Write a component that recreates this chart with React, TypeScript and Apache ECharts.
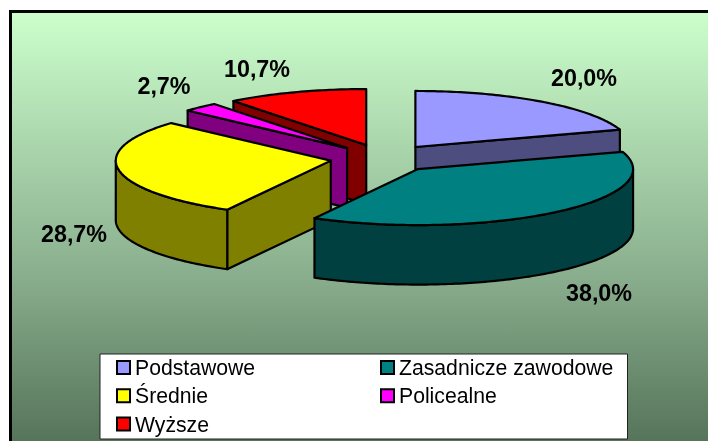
import React, { useEffect, useRef } from "react";
import * as echarts from "echarts";

const categories = ["Podstawowe", "Zasadnicze zawodowe", "Średnie", "Policealne", "Wyższe"];
const values = [20.0, 38.0, 28.7, 2.7, 10.7];
const topColors = ["#9999FF", "#008080", "#FFFF00", "#FF00FF", "#FF0000"];
const sideColors = ["#4D4D80", "#004040", "#808000", "#800080", "#800000"];
const drawRank = [3, 4, 2, 1, 0];
const legendLeftColumn = ["Podstawowe", "Średnie", "Wyższe"];
const legendRightColumn = ["Zasadnicze zawodowe", "Policealne"];
const labelCenters: [number, number][] = [[584, 78], [599, 293], [74, 234], [164, 86], [257, 69]];

const CX = 383.8, CY = 158.3, RX = 215, RY = 56, DEPTH = 59.5, EXPLODE = 0.25;
const FONT = "'Liberation Sans', Arial, sans-serif";
const PERCENT_TOTAL = 100;

const startAngle = (i: number) => values.slice(0, i).reduce((a, b) => a + b, 0) / PERCENT_TOTAL * 360;

function renderSlice(i: number) {
  return (_params: any, api: any) => {
    const v = api.value(0);
    const a0 = startAngle(i);
    const a1 = Math.min(360, a0 + (v / PERCENT_TOTAL) * 360);
    const mid = ((a0 + a1) / 2) * Math.PI / 180;
    const ax = CX + EXPLODE * RX * Math.sin(mid);
    const ay = CY - EXPLODE * RY * Math.cos(mid);
    const rim = (deg: number, dy = 0): number[] => {
      const r = deg * Math.PI / 180;
      return [ax + RX * Math.sin(r), ay - RY * Math.cos(r) + dy];
    };
    const arc = (from: number, to: number, dy = 0) => {
      const pts: number[][] = [];
      const n = Math.max(2, Math.ceil(Math.abs(to - from)));
      for (let k = 0; k <= n; k++) pts.push(rim(from + ((to - from) * k) / n, dy));
      return pts;
    };
    const base = drawRank[i] * 10;
    const children: any[] = [];
    const poly = (points: number[][], fill: string, z2: number) =>
      children.push({
        type: "polygon",
        z2: base + z2,
        shape: { points },
        style: { fill, stroke: "#000", lineWidth: 2.2, lineJoin: "round" },
      });
    const face = (deg: number) => {
      const p = rim(deg);
      poly([[ax, ay], p, [p[0], p[1] + DEPTH], [ax, ay + DEPTH]], sideColors[i], 1);
    };
    if (a0 > 180 && a0 < 360) face(a0);
    if (a1 > 0 && a1 < 180) face(a1);
    const c0 = Math.max(a0, 90), c1 = Math.min(a1, 270);
    if (c1 > c0) {
      poly([...arc(c0, c1), ...arc(c1, c0, DEPTH)], sideColors[i], 2);
    }
    poly([[ax, ay], ...arc(a0, a1)], topColors[i], 3);
    children.push({
      type: "text",
      z2: 100,
      style: {
        text: v.toFixed(1).replace(".", ",") + "%",
        x: labelCenters[i][0],
        y: labelCenters[i][1],
        fill: "#000",
        fontFamily: FONT,
        fontSize: 23.3,
        fontWeight: "bold",
        align: "center",
        verticalAlign: "middle",
        textAlign: "center",
        textVerticalAlign: "middle",
      },
    });
    return { type: "group", children };
  };
}

const legendBase = {
  orient: "vertical",
  top: 357,
  itemWidth: 13,
  itemHeight: 13,
  itemGap: 7.3,
  icon: "rect",
  selectedMode: false,
  padding: 0,
  itemStyle: { borderColor: "#000", borderWidth: 2 },
  textStyle: { fontFamily: FONT, fontSize: 21.2, color: "#000" },
  z: 5,
};

export default function App() {
  const ref = useRef<HTMLDivElement>(null);
  useEffect(() => {
    const chart = echarts.init(ref.current!, null, { renderer: "svg" });
    chart.setOption({
      animation: false,
      graphic: [
        {
          type: "rect",
          z: 0,
          shape: { x: 10.5, y: 11.5, width: 720, height: 460 },
          style: {
            fill: new echarts.graphic.LinearGradient(0, 0, 0, 1, [
              { offset: 0, color: "#CCFFCC" },
              { offset: 0.56, color: "#8BB08F" },
              { offset: 0.935, color: "#56745A" },
              { offset: 1, color: "#4E6A52" },
            ]),
            stroke: "#000",
            lineWidth: 3,
          },
        },
        {
          type: "rect",
          z: 3,
          shape: { x: 100, y: 354, width: 527.5, height: 85 },
          style: { fill: "#fff", stroke: "#222", lineWidth: 1 },
        },
      ],
      legend: [
        { ...legendBase, left: 116, data: legendLeftColumn },
        { ...legendBase, left: 380, data: legendRightColumn },
      ],
      series: categories.map((name, i) => ({
        type: "custom",
        name,
        coordinateSystem: "none",
        z: 2,
        silent: true,
        itemStyle: { color: topColors[i] },
        renderItem: renderSlice(i),
        data: [[values[i]]],
      })),
    });
    return () => chart.dispose();
  }, []);
  return <div ref={ref} style={{ position: "fixed", left: 0, top: 0, width: 708, height: 441 }} />;
}
